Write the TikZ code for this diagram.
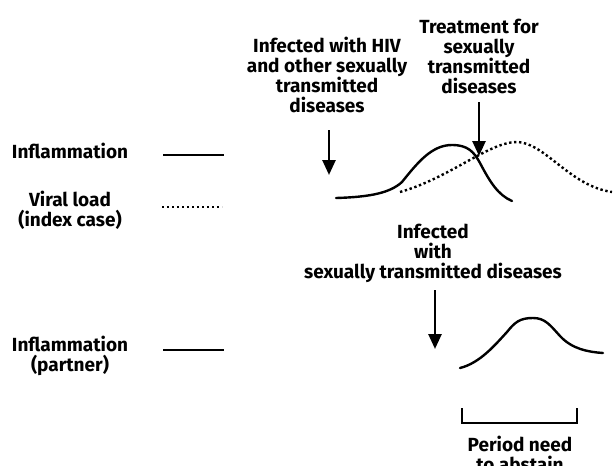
\documentclass[tikz,border=0pt]{standalone}
\usepackage{fontspec}
\setmainfont{Fira Sans}
\usetikzlibrary{positioning, arrows.meta}

\begin{document}
\begin{tikzpicture}[
  x=1pt, y=-1pt,
  lbl/.style={font=\bfseries\fontsize{19}{20}\selectfont, align=center, inner sep=0pt, anchor=base},
  curve/.style={line width=2.4pt, line cap=round},
  viral/.style={line width=2.4pt, dash pattern=on 2.4pt off 2.6pt},
  arr/.style={line width=2.6pt, -{Triangle[length=15pt, width=13pt]}},
]
\useasboundingbox (0,0) rectangle (614,466);
\clip (0,0) rectangle (614,466);

% legend (base = last line)
\node[lbl] (inflam) at (70,158) {Inflammation};
\node[lbl] (viral) at (70,226) {Viral load\\(index case)};
\node[lbl] (partner) at (70,371) {Inflammation\\(partner)};
\draw[curve, line cap=butt] (163,155) -- (224,155);
\draw[viral] (162,207) -- (222,207);
\draw[curve, line cap=butt] (163,350) -- (224,350);

% index case
\node[lbl] (hiv) at (327,112) {Infected with HIV\\and other sexually\\transmitted\\diseases};
\node[lbl] (treat) at (479,93) {Treatment for\\sexually\\transmitted\\diseases};
\coordinate (hivtop) at (329,130);
\coordinate (hivtip) at (329,175);
\coordinate (treattop) at (479,102);
\coordinate (treattip) at (479,156);
\draw[arr] (hivtop) -- (hivtip);
\draw[arr] (treattop) -- (treattip);

\draw[curve] (336,198) .. controls (370,197) and (390,193) .. (402,182)
  .. controls (418,162) and (432,145) .. (452,145)
  .. controls (468,145) and (474,152) .. (480,163)
  .. controls (490,182) and (498,195) .. (512,201);
\draw[viral] (400,192) .. controls (450,178) and (490,141) .. (518,142)
  .. controls (546,144) and (570,186) .. (612,192);

% partner
\node[lbl] (stdinf) at (433,278) {Infected\\with\\sexually transmitted diseases};
\coordinate (stdtop) at (435,290);
\coordinate (stdtip) at (435,349);
\draw[arr] (stdtop) -- (stdtip);

\draw[curve] (460,368) .. controls (480,363) and (495,345) .. (507,332)
  .. controls (515,322) and (520,318) .. (533,318)
  .. controls (545,318) and (550,325) .. (560,336)
  .. controls (572,349) and (588,352) .. (603,353);

% abstain period
\coordinate (pstart) at (462,408);
\coordinate (pend) at (577,408);
\draw[line width=2.4pt] (pstart) -- ++(0,15) -| (pend);
\node[lbl] (period) at (520,471) {Period need\\to abstain};
\end{tikzpicture}
\end{document}
